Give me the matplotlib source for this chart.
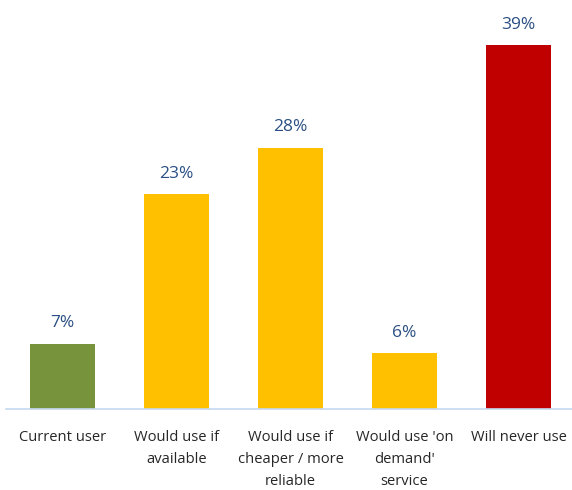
import matplotlib.pyplot as plt

categories = ["Current user", "Would use if\navailable", "Would use if\ncheaper / more\nreliable",
              "Would use 'on\ndemand'\nservice", "Will never use"]
values = [7, 23, 28, 6, 39]
colors = ["#77933C", "#FFC000", "#FFC000", "#FFC000", "#C00000"]

plt.rcParams['font.family'] = ['Open Sans', 'DejaVu Sans']

fig = plt.figure(figsize=(5.72, 4.9), dpi=100)
ax = fig.add_axes([5.5 / 572, 81 / 490, 570 / 572, 404 / 490])

x = range(len(values))
bars = ax.bar(x, values, width=0.57, color=colors)
for b, v in zip(bars, values):
    ax.annotate(f"{v}%", (b.get_x() + b.get_width() / 2, v), xytext=(0, 9),
                textcoords="offset points", ha="center", va="bottom",
                fontsize=12.5, color="#2B4F84")

ax.set_xlim(-0.5, len(values) - 0.5)
ax.set_ylim(0, 43.3)
ax.set_xticks(list(x))
ax.set_xticklabels(categories, fontsize=10.6, color="#262626", linespacing=1.65, va="top")
ax.tick_params(axis="x", length=0, pad=15)
ax.set_yticks([])
for s in ["top", "left", "right"]:
    ax.spines[s].set_visible(False)
ax.spines["bottom"].set_color("#C5D9F1")
ax.spines["bottom"].set_linewidth(1.2)

fig.savefig("out.png", dpi=100)
